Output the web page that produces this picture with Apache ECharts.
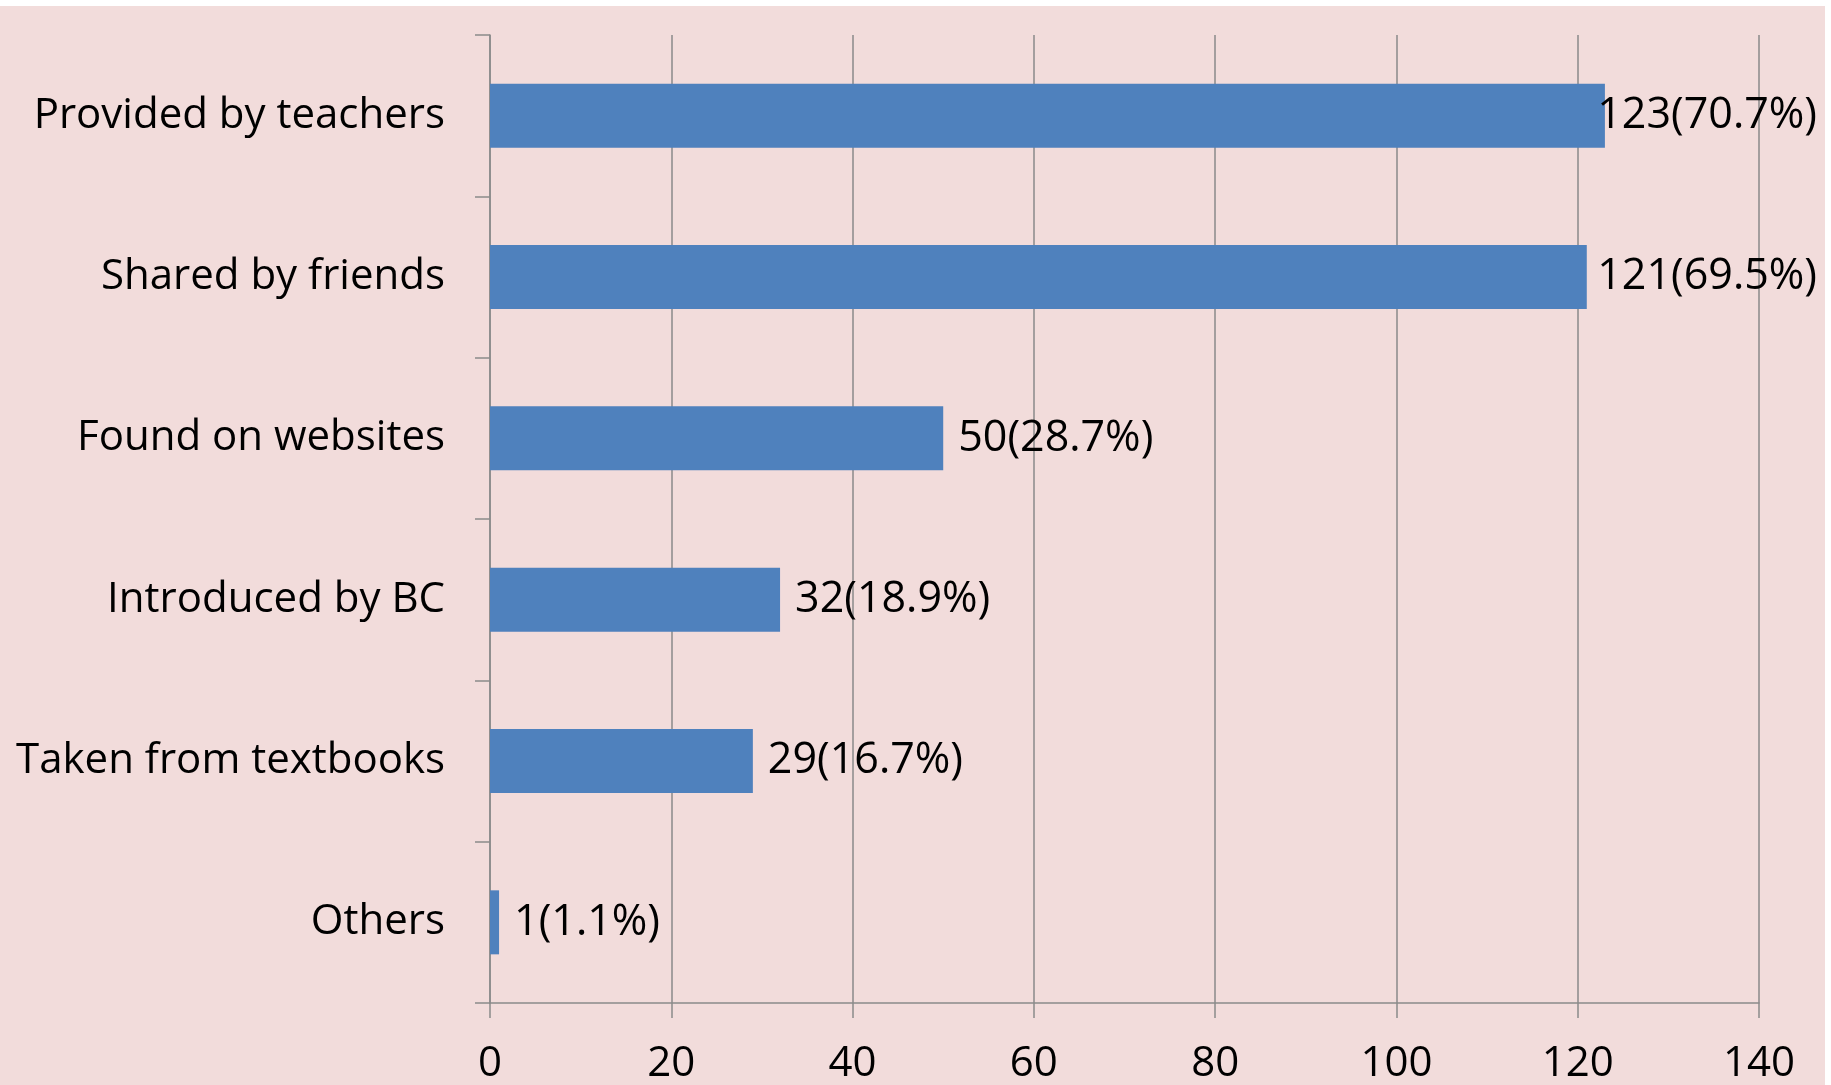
<!DOCTYPE html>
<html>
<head>
<meta charset="utf-8">
<script src="https://cdn.jsdelivr.net/npm/echarts@6/dist/echarts.min.js"></script>
<style>
  html, body { margin: 0; padding: 0; background: #ffffff; width: 1831px; height: 1085px; overflow: hidden; }
  #chart { position: absolute; left: 0; top: 6px; width: 1825px; height: 1079px; background: #F2DCDB; }
</style>
</head>
<body>
<div id="chart"></div>
<script>
const categories = ['Provided by teachers', 'Shared by friends', 'Found on websites', 'Introduced by BC', 'Taken from textbooks', 'Others'];
const counts = [123, 121, 50, 32, 29, 1];
const percents = ['70.7%', '69.5%', '28.7%', '18.9%', '16.7%', '1.1%'];
const xTicks = [0, 20, 40, 60, 80, 100, 120, 140];

const chart = echarts.init(document.getElementById('chart'), null, { renderer: 'canvas' });
const W = 1825;
const FONT = 'Open Sans';
const gray = '#8A8A8A';

chart.setOption({
  backgroundColor: '#F2DCDB',
  animation: false,
  grid: { left: 490, right: W - 1759, top: 29, bottom: 82, containLabel: false },
  xAxis: {
    type: 'value',
    min: xTicks[0],
    max: xTicks[xTicks.length - 1],
    interval: 20,
    axisLine: { show: true, lineStyle: { color: gray, width: 1.5 } },
    axisTick: { show: true, length: 15, lineStyle: { color: gray, width: 1.5 } },
    splitLine: { show: true, lineStyle: { color: gray, width: 1.5 } },
    axisLabel: { color: '#000', fontFamily: FONT, fontSize: 42, margin: 40 }
  },
  yAxis: {
    type: 'category',
    data: categories,
    inverse: true,
    axisLine: { show: true, lineStyle: { color: gray, width: 1.5 } },
    axisTick: { show: true, length: 15, lineStyle: { color: gray, width: 1.5 } },
    axisLabel: { color: '#000', fontFamily: FONT, fontSize: 42, margin: 45 }
  },
  series: [{
    type: 'bar',
    data: counts,
    barWidth: 64,
    itemStyle: { color: '#4F81BD' },
    label: {
      show: true,
      position: 'right',
      distance: 15,
      offset: [0, 4],
      color: '#000',
      fontFamily: FONT,
      fontSize: 43,
      formatter: p => counts[p.dataIndex] + '(' + percents[p.dataIndex] + ')'
    },
    labelLayout: function (params) {
      const r = params.labelRect;
      const limit = W - 8;
      const over = r.x + r.width - limit;
      return over > 0 ? { dx: -over } : {};
    }
  }]
});
</script>
</body>
</html>
